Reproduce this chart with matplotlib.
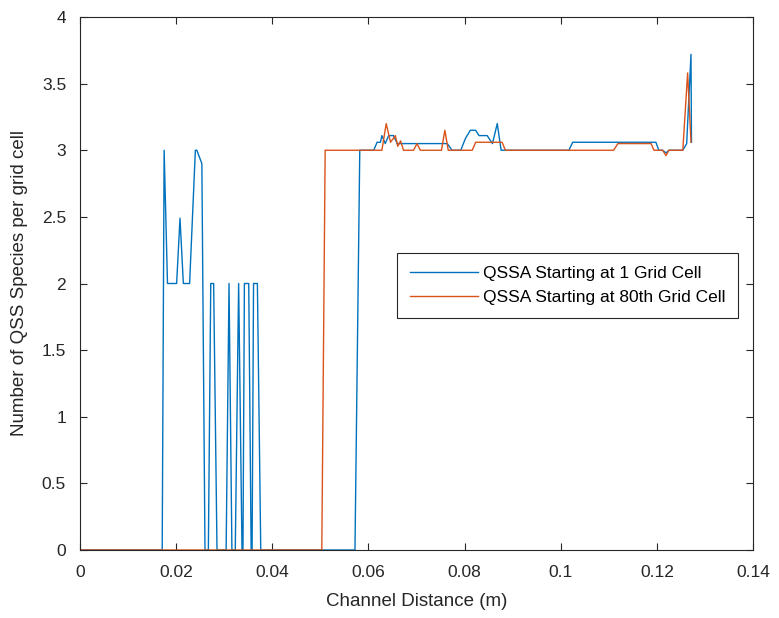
import matplotlib.pyplot as plt

plt.rcParams['font.family'] = ['Liberation Sans', 'DejaVu Sans']

# QSSA starting at grid cell 1
dist_1 = [0, 0.0171, 0.0175, 0.0182, 0.0201, 0.0208, 0.0215, 0.0228, 0.0240, 0.0243,
          0.02535, 0.0260, 0.0267, 0.0272, 0.0278, 0.0285, 0.0304, 0.0310, 0.0316,
          0.0323, 0.0330, 0.0337, 0.0339, 0.0342, 0.0351, 0.0356, 0.0358, 0.0361,
          0.0369, 0.0376, 0.0572, 0.0582, 0.0611, 0.0618, 0.0625, 0.0628, 0.0635,
          0.0642, 0.0652, 0.0660, 0.0764, 0.0774, 0.0792, 0.0802, 0.0812, 0.0823,
          0.0830, 0.0847, 0.0858, 0.0868, 0.0876, 0.1017, 0.1025, 0.1198, 0.1204,
          0.1212, 0.1219, 0.1225, 0.1254, 0.1262, 0.1271, 0.1272]
qss_1 = [0, 0, 3, 2, 2, 2.49, 2, 2, 3, 3,
         2.9, 0, 0, 2, 2, 0, 0, 2, 0,
         0, 2, 0, 0, 2, 2, 0, 0, 2,
         2, 0, 0, 3, 3, 3.06, 3.06, 3.11, 3.05,
         3.11, 3.11, 3.05, 3.05, 3.0, 3.0, 3.09, 3.15, 3.15,
         3.11, 3.11, 3.05, 3.2, 3.0, 3.0, 3.06, 3.06, 3.0,
         3.0, 2.98, 3.0, 3.0, 3.05, 3.72, 3.06]

# QSSA starting at grid cell 80
dist_80 = [0, 0.0503, 0.0510, 0.0628, 0.0637, 0.0646, 0.0656, 0.0661, 0.0667, 0.0673,
           0.0694, 0.0701, 0.0708, 0.0752, 0.0759, 0.0766, 0.0816, 0.0823, 0.0878,
           0.0885, 0.1110, 0.1119, 0.1188, 0.1194, 0.1212, 0.1219, 0.1225, 0.1254,
           0.1264, 0.1271]
qss_80 = [0, 0, 3, 3, 3.2, 3.06, 3.11, 3.03, 3.07, 3.0,
          3.0, 3.05, 3.0, 3.0, 3.15, 3.0, 3.0, 3.06, 3.06,
          3.0, 3.0, 3.05, 3.05, 3.0, 3.0, 2.96, 3.0, 3.0,
          3.58, 3.06]

txt = '#262626'

fig = plt.figure(figsize=(7.79, 6.18), dpi=100)
ax = fig.add_axes([80 / 779, 68 / 618, 673 / 779, 533 / 618])

ax.plot(dist_1, qss_1, color='#0072BD', lw=1.0, label='QSSA Starting at 1 Grid Cell')
ax.plot(dist_80, qss_80, color='#D95319', lw=1.0, label='QSSA Starting at 80th Grid Cell')

ax.set_xlim(0, 0.14)
ax.set_ylim(0, 4)
ax.set_xticks([0, 0.02, 0.04, 0.06, 0.08, 0.1, 0.12, 0.14])
ax.set_xticklabels(['0', '0.02', '0.04', '0.06', '0.08', '0.1', '0.12', '0.14'])
ax.set_yticks([0, 0.5, 1, 1.5, 2, 2.5, 3, 3.5, 4])
ax.set_yticklabels(['0', '0.5', '1', '1.5', '2', '2.5', '3', '3.5', '4'])
ax.tick_params(direction='in', top=True, right=True, length=5, width=0.8,
               colors=txt, labelsize=12.5)
ax.tick_params(axis='x', pad=11)
ax.tick_params(axis='y', pad=10)
for s in ax.spines.values():
    s.set_color(txt)
    s.set_linewidth(0.8)

ax.set_xlabel('Channel Distance (m)', fontsize=13.5, color=txt, labelpad=9)
ax.set_ylabel('Number of QSS Species per grid cell', fontsize=13.5, color=txt, labelpad=10)

leg = ax.legend(loc='upper left', bbox_to_anchor=(0.471, 0.557), borderaxespad=0,
                fancybox=False, edgecolor=txt, fontsize=12.5, handlelength=3.9,
                handletextpad=0.3, borderpad=0.75, labelspacing=0.5, framealpha=1)
leg.get_frame().set_linewidth(0.8)
for t in leg.get_texts():
    t.set_color('black')

fig.savefig('out.png', dpi=100)
